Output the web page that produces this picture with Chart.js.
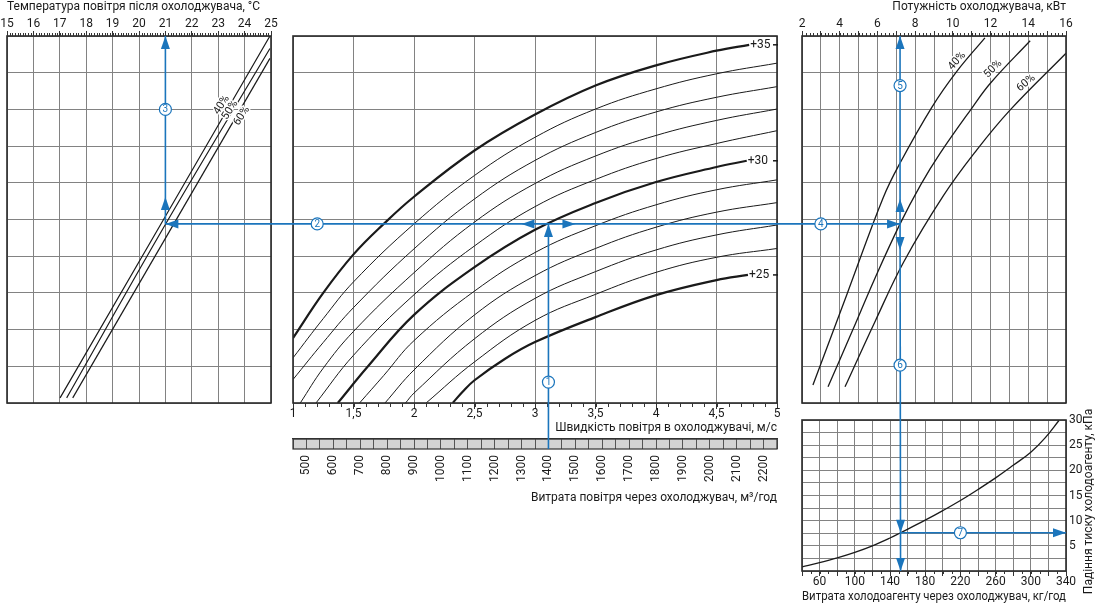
<!DOCTYPE html>
<html><head><meta charset="utf-8">
<script src="https://cdn.jsdelivr.net/npm/chart.js@4.4.1/dist/chart.umd.min.js"></script>
<style>
html,body{margin:0;padding:0;background:#fff;}
#wrap{position:relative;width:1098px;height:604px;overflow:hidden;background:#fff;}
#wrap canvas{position:absolute;left:0;top:0;}
</style></head><body>
<div id="wrap">
<canvas id="cL" width="1098" height="604"></canvas>
<canvas id="cC" width="1098" height="604"></canvas>
<canvas id="cR" width="1098" height="604"></canvas>
<canvas id="cB" width="1098" height="604"></canvas>
</div>
<script>
// ================= DATA =================
// Left panel: air temperature after the cooler, °C (tick labels) and RH lines
const outletTempTicks = [15, 16, 17, 18, 19, 20, 21, 22, 23, 24, 25];
const rhNames = ['40%', '50%', '60%'];
const outT40 = [17.01, 24.96];
const outS40 = [0.14, 10.0];
const outT50 = [17.26, 21.02, 24.96];
const outS50 = [0.14, 4.89, 9.66];
const outT60 = [17.49, 24.96];
const outS60 = [0.14, 9.39];

// Central panel: air velocity, m/s and air flow, m3/h
const velocityTicks = [1, 1.5, 2, 2.5, 3, 3.5, 4, 4.5, 5];
const velocityTickLabels = ['1', '1,5', '2', '2,5', '3', '3,5', '4', '4,5', '5'];
const airflowTicks = [500, 600, 700, 800, 900, 1000, 1100, 1200, 1300, 1400, 1500, 1600, 1700, 1800, 1900, 2000, 2100, 2200];
// inlet air temperature curves (+25 ... +35 °C)
const inletTemps = [35, 34, 33, 32, 31, 30, 29, 28, 27, 26, 25];
const vel35 = [1.0, 1.25, 1.5, 1.75, 2.0, 2.5, 3.0, 3.5, 4.0, 4.5, 4.77];
const st35  = [1.77, 3.0, 4.05, 4.88, 5.62, 6.88, 7.86, 8.65, 9.2, 9.6, 9.76];
const vel34 = [1.0, 1.25, 1.5, 2.0, 2.5, 3.0, 3.5, 4.0, 4.5, 5.0];
const st34  = [1.23, 2.3, 3.3, 4.88, 6.2, 7.24, 8.01, 8.56, 8.97, 9.26];
const vel33 = [1.0, 1.25, 1.5, 2.0, 2.5, 3.0, 3.5, 4.0, 4.5, 5.0];
const st33  = [0.64, 1.65, 2.6, 4.2, 5.56, 6.61, 7.37, 7.93, 8.33, 8.62];
const vel32 = [1.06, 1.25, 1.5, 2.0, 2.5, 3.0, 3.5, 4.0, 4.5, 5.0];
const st32  = [0.0, 0.95, 1.95, 3.55, 4.93, 5.98, 6.73, 7.29, 7.7, 8.01];
const vel31 = [1.19, 1.5, 2.0, 2.5, 3.0, 3.5, 4.0, 4.5, 5.0];
const st31  = [0.0, 1.3, 2.95, 4.28, 5.35, 6.09, 6.66, 7.07, 7.42];
const vel30 = [1.37, 1.62, 2.0, 2.5, 3.0, 3.5, 4.0, 4.5, 4.75];
const st30  = [0.0, 1.0, 2.4, 3.7, 4.72, 5.45, 6.02, 6.43, 6.6];
const vel29 = [1.55, 1.75, 2.0, 2.5, 3.0, 3.5, 4.0, 4.5, 5.0];
const st29  = [0.0, 0.75, 1.7, 3.05, 4.1, 4.83, 5.4, 5.81, 6.08];
const vel28 = [1.76, 2.0, 2.5, 3.0, 3.5, 4.0, 4.5, 5.0];
const st28  = [0.0, 0.9, 2.4, 3.47, 4.21, 4.79, 5.2, 5.46];
const vel27 = [1.93, 2.0, 2.5, 3.0, 3.5, 4.0, 4.5, 5.0];
const st27  = [0.0, 0.27, 1.75, 2.85, 3.58, 4.17, 4.58, 4.85];
const vel26 = [2.10, 2.5, 3.0, 3.5, 4.0, 4.5, 5.0];
const st26  = [0.0, 1.12, 2.25, 2.96, 3.56, 3.97, 4.21];
const vel25 = [2.32, 2.4, 2.5, 2.75, 3.0, 3.5, 4.0, 4.5, 4.76];
const st25  = [0.0, 0.3, 0.62, 1.2, 1.66, 2.34, 2.94, 3.35, 3.49];

// Right upper panel: cooler capacity, kW
const powerTicks = [2, 4, 6, 8, 10, 12, 14, 16];
const pow40 = [2.58, 4.41, 6.31, 7.2, 8.9, 10.2, 11.7];
const ps40  = [0.49, 3.0, 5.6, 6.54, 8.07, 9.03, 9.95];
const pow50 = [3.38, 4.7, 5.87, 7.2, 8.3, 9.32, 11.0, 12.0, 14.1];
const ps50  = [0.44, 2.0, 3.4, 4.88, 5.95, 6.8, 8.03, 8.72, 9.87];
const pow60 = [4.28, 5.9, 7.4, 9.5, 11.26, 13.03, 16.0];
const ps60  = [0.44, 2.25, 3.85, 5.65, 6.89, 7.98, 9.53];

// Right lower panel: refrigerant flow, kg/h  vs  pressure drop, kPa
const refFlowTicks = [60, 100, 140, 180, 220, 260, 300, 340];
const dropTicks = [5, 10, 15, 20, 25, 30];
const refFlow = [40, 60, 80, 100, 120, 140, 152, 180, 200, 220, 240, 260, 280, 300, 316, 332];
const refDrop = [0.8, 1.65, 2.6, 3.7, 5.0, 6.55, 7.6, 10.1, 12.0, 14.0, 16.2, 18.5, 21.0, 23.6, 26.4, 29.9];

// Worked example (blue path)
const exampleAirflow = 1400;      // m3/h
const exampleVelocityBadge = 1.2; // where badge 2 sits, m/s
const exampleState = 4.88;        // level where +30 curve meets the 1400 m3/h line
const exampleOutletTemp = 21;     // °C
const examplePower = 7.2;         // kW
const exampleRefFlow = 152;       // kg/h
const examplePressureDrop = 7.6;  // kPa

// ================= STYLE =================
const FONT = "Roboto, 'Liberation Sans', sans-serif";
const INK = '#1a1a1a';
const GRID = '#828282';
const BLUE = '#1b75bc';
Chart.defaults.font.family = FONT;
Chart.defaults.font.size = 12;
Chart.defaults.color = INK;

const pts = (xs, ys) => xs.map((x, i) => ({x: x, y: ys[i]}));
const near = (a, b) => Math.abs(a - b) < 1e-6;
const inList = (list, v) => list.some(t => near(t, v));

const baseOpts = () => ({
  responsive: false, animation: false, events: [], devicePixelRatio: 1,
  plugins: {legend: {display: false}, tooltip: {enabled: false}}
});
const stateAxis = () => ({
  type: 'linear', min: 0, max: 10,
  ticks: {display: false, stepSize: 1},
  grid: {color: GRID, drawTicks: false, tickLength: 0},
  border: {display: false},
  afterFit: s => { s.width = 0; }
});
const curve = (data, w) => ({data: data, borderColor: INK, borderWidth: w, pointRadius: 0,
  tension: 0.4, fill: false});

const framePlugin = {
  id: 'frame',
  afterDatasetsDraw(chart) {
    const {ctx, chartArea: a} = chart;
    ctx.save(); ctx.strokeStyle = '#2a2a2a'; ctx.lineWidth = 1.6;
    ctx.strokeRect(a.left, a.top, a.right - a.left, a.bottom - a.top);
    ctx.restore();
  }
};
const minorTicks = (list) => ({
  id: 'minorTicks',
  afterDraw(chart) {
    const ctx = chart.ctx;
    list.forEach(m => {
      const s = chart.scales[m.axis];
      const n = Math.round((s.max - s.min) / m.step);
      ctx.save(); ctx.strokeStyle = '#333'; ctx.lineWidth = 1; ctx.beginPath();
      for (let i = 0; i <= n; i++) {
        const x = Math.round(s.getPixelForValue(s.min + i * m.step)) + 0.5;
        if (m.side === 'top') { ctx.moveTo(x, s.bottom); ctx.lineTo(x, s.bottom - m.len); }
        else { ctx.moveTo(x, s.top); ctx.lineTo(x, s.top + m.len); }
      }
      ctx.stroke(); ctx.restore();
    });
  }
});
const curveLabels = (items, size) => ({
  id: 'curveLabels',
  afterDatasetsDraw(chart) {
    const ctx = chart.ctx, sx = chart.scales.x, sy = chart.scales.y;
    items.forEach(it => {
      ctx.save();
      ctx.translate(sx.getPixelForValue(it.x), sy.getPixelForValue(it.y));
      ctx.rotate(it.angle * Math.PI / 180);
      ctx.font = size + 'px ' + FONT; ctx.textAlign = 'center'; ctx.textBaseline = 'middle';
      ctx.strokeStyle = '#fff'; ctx.lineWidth = 3; ctx.strokeText(it.text, 0, 0);
      ctx.fillStyle = INK; ctx.fillText(it.text, 0, 0);
      ctx.restore();
    });
  }
});

// ================= LEFT PANEL =================
const L = new Chart(document.getElementById('cL'), {
  type: 'line',
  data: {datasets: [
    curve(pts(outT40, outS40), 1.2),
    curve(pts(outT50, outS50), 1.2),
    curve(pts(outT60, outS60), 1.2)
  ]},
  options: Object.assign(baseOpts(), {
    layout: {padding: {left: 7, right: 827, top: 0, bottom: 201}},
    scales: {
      x: {type: 'linear', position: 'top', min: 15, max: 25,
        ticks: {stepSize: 1, autoSkip: false, maxRotation: 0, padding: 0,
          callback: v => inList(outletTempTicks, v) ? String(v) : ''},
        grid: {color: GRID, tickColor: '#333', tickLength: 5},
        border: {display: false},
        title: {display: true, text: 'Температура повітря після охолоджувача, °C', align: 'start',
          padding: {top: 0, bottom: 0}, color: INK},
        afterFit: s => { s.height = 36; }},
      y: stateAxis()
    }
  }),
  plugins: [framePlugin, minorTicks([{axis: 'x', step: 0.1, len: 3, side: 'top'}]),
    curveLabels([
      {text: rhNames[0], x: 23.13, y: 8.12, angle: -57},
      {text: rhNames[1], x: 23.45, y: 7.98, angle: -57},
      {text: rhNames[2], x: 23.89, y: 7.82, angle: -57}
    ], 11)]
});

// ================= CENTRAL PANEL =================
const inletVel = [vel35, vel34, vel33, vel32, vel31, vel30, vel29, vel28, vel27, vel26, vel25];
const inletSt  = [st35, st34, st33, st32, st31, st30, st29, st28, st27, st26, st25];

const grayBarPlugin = {
  id: 'grayBar',
  beforeDraw(chart) {
    const s = chart.scales.x2, ctx = chart.ctx;
    ctx.save(); ctx.fillStyle = '#d4d4d4';
    ctx.fillRect(s.left, s.top, s.right - s.left, 10);
    ctx.restore();
  },
  afterDraw(chart) {
    const s = chart.scales.x2, ctx = chart.ctx;
    ctx.save(); ctx.strokeStyle = '#333'; ctx.lineWidth = 1.2;
    ctx.strokeRect(s.left, s.top, s.right - s.left, 10);
    ctx.restore();
  }
};
const tagPlugin = {
  id: 'tags',
  afterDatasetsDraw(chart) {
    const ctx = chart.ctx, a = chart.chartArea;
    chart.data.datasets.forEach((ds, i) => {
      if (!ds.tag) return;
      const meta = chart.getDatasetMeta(i);
      const p = meta.data[meta.data.length - 1];
      ctx.save();
      ctx.font = '12px ' + FONT; ctx.fillStyle = INK; ctx.textAlign = 'left'; ctx.textBaseline = 'middle';
      ctx.fillText(ds.tag, p.x + 1, p.y);
      ctx.strokeStyle = INK; ctx.lineWidth = 1.5;
      ctx.beginPath(); ctx.moveTo(a.right - 4, p.y); ctx.lineTo(a.right + 1, p.y); ctx.stroke();
      ctx.restore();
    });
  }
};

const C = new Chart(document.getElementById('cC'), {
  type: 'line',
  data: {datasets: inletTemps.map((t, i) => Object.assign(
    curve(pts(inletVel[i], inletSt[i]), t % 5 === 0 ? 2.2 : 1),
    {xAxisID: 'x', yAxisID: 'y', tag: t % 5 === 0 ? '+' + t : ''}))},
  options: Object.assign(baseOpts(), {
    layout: {padding: {left: 293, right: 321, top: 36, bottom: 99}},
    scales: {
      x: {type: 'linear', position: 'bottom', min: 1, max: 5, weight: 0,
        ticks: {stepSize: 0.5, autoSkip: false, maxRotation: 0, padding: -2,
          callback: v => { const k = velocityTicks.findIndex(t => near(t, v)); return k >= 0 ? velocityTickLabels[k] : ''; }},
        grid: {color: GRID, tickColor: '#333', tickLength: 6},
        border: {display: false},
        title: {display: true, text: 'Швидкість повітря в охолоджувачі, м/с', align: 'end',
          padding: {top: 0, bottom: 4}, color: INK},
        afterFit: s => { s.height = 36; }},
      x2: {type: 'linear', axis: 'x', position: 'bottom', min: 450, max: 2250, weight: 1,
        ticks: {stepSize: 50, autoSkip: false, minRotation: 90, maxRotation: 90, padding: 6,
          callback: v => inList(airflowTicks, v) ? String(v) : ''},
        grid: {drawOnChartArea: false, color: '#555', tickColor: '#555', tickLength: 10},
        border: {display: true, color: '#333', width: 1.2},
        title: {display: true, text: 'Витрата повітря через охолоджувач, м³/год', align: 'end',
          padding: {top: 0, bottom: 0}, color: INK},
        afterFit: s => { s.height = 66; }},
      y: stateAxis()
    }
  }),
  plugins: [grayBarPlugin, framePlugin, tagPlugin, minorTicks([{axis: 'x', step: 0.1, len: 4, side: 'bottom'}])]
});

// ================= RIGHT UPPER PANEL =================
const R = new Chart(document.getElementById('cR'), {
  type: 'line',
  data: {datasets: [
    curve(pts(pow40, ps40), 1.3),
    curve(pts(pow50, ps50), 1.3),
    curve(pts(pow60, ps60), 1.3)
  ]},
  options: Object.assign(baseOpts(), {
    layout: {padding: {left: 802, right: 32, top: 0, bottom: 201}},
    scales: {
      x: {type: 'linear', position: 'top', min: 2, max: 16,
        ticks: {stepSize: 1, autoSkip: false, maxRotation: 0, padding: 0,
          callback: v => inList(powerTicks, v) ? String(v) : ''},
        grid: {color: GRID, tickColor: '#333', tickLength: 5},
        border: {display: false},
        title: {display: true, text: 'Потужність охолоджувача, кВт', align: 'end',
          padding: {top: 0, bottom: 0}, color: INK},
        afterFit: s => { s.height = 36; }},
      y: stateAxis()
    }
  }),
  plugins: [framePlugin, minorTicks([{axis: 'x', step: 0.2, len: 3, side: 'top'}]),
    curveLabels([
      {text: rhNames[0], x: 10.22, y: 9.32, angle: -48},
      {text: rhNames[1], x: 12.13, y: 9.10, angle: -45},
      {text: rhNames[2], x: 13.88, y: 8.72, angle: -40}
    ], 11)]
});

// ================= RIGHT LOWER PANEL + BLUE EXAMPLE PATH =================
function arrow(ctx, x, y, dir) {
  const len = 13, w = 4.5;
  ctx.beginPath(); ctx.moveTo(x, y);
  if (dir === 'up') { ctx.lineTo(x - w, y + len); ctx.lineTo(x + w, y + len); }
  if (dir === 'down') { ctx.lineTo(x - w, y - len); ctx.lineTo(x + w, y - len); }
  if (dir === 'left') { ctx.lineTo(x + len, y - w); ctx.lineTo(x + len, y + w); }
  if (dir === 'right') { ctx.lineTo(x - len, y - w); ctx.lineTo(x - len, y + w); }
  ctx.closePath(); ctx.fill();
}
function badge(ctx, x, y, n) {
  ctx.beginPath(); ctx.arc(x, y, 6, 0, Math.PI * 2);
  ctx.fillStyle = '#fff'; ctx.fill();
  ctx.lineWidth = 1.2; ctx.strokeStyle = BLUE; ctx.stroke();
  ctx.fillStyle = BLUE; ctx.font = '10px ' + FONT; ctx.textAlign = 'center'; ctx.textBaseline = 'middle';
  ctx.fillText(String(n), x, y + 0.5);
}
const yTitlePlugin = {
  id: 'yTitle',
  afterDraw(chart) {
    const a = chart.chartArea, ctx = chart.ctx;
    ctx.save();
    ctx.translate(a.right + 23, (a.top + a.bottom) / 2 + 6);
    ctx.rotate(-Math.PI / 2);
    ctx.font = '12px ' + FONT; ctx.fillStyle = INK; ctx.textAlign = 'center'; ctx.textBaseline = 'middle';
    ctx.fillText('Падіння тиску холодоагенту, кПа', 0, 0);
    ctx.restore();
  }
};
const guidePlugin = {
  id: 'guide',
  afterDraw(B) {
    const ctx = B.ctx;
    const yH = C.scales.y.getPixelForValue(exampleState);
    const xL = L.scales.x.getPixelForValue(exampleOutletTemp);
    const xC = C.scales.x2.getPixelForValue(exampleAirflow);
    const xR = R.scales.x.getPixelForValue(examplePower);
    const xRB = B.scales.x.getPixelForValue(exampleRefFlow);
    const yDp = B.scales.y.getPixelForValue(examplePressureDrop);
    const barBottom = C.scales.x2.top + 10;
    ctx.save();
    ctx.strokeStyle = BLUE; ctx.fillStyle = BLUE; ctx.lineWidth = 1.6;
    const seg = (x1, y1, x2, y2) => { ctx.beginPath(); ctx.moveTo(x1, y1); ctx.lineTo(x2, y2); ctx.stroke(); };
    seg(xC, barBottom, xC, yH);                 // 1
    seg(xL, yH, xR, yH);                        // 2 + 4
    seg(xL, yH, xL, L.chartArea.top);           // 3
    seg(xR, yH, xR, R.chartArea.top);           // 5
    seg(xR, yH, xRB, B.chartArea.bottom);       // 6
    seg(xRB, yDp, B.chartArea.right, yDp);      // 7
    arrow(ctx, xC, yH, 'up');
    arrow(ctx, xL, yH, 'left');
    arrow(ctx, xC - 27, yH, 'left');
    arrow(ctx, xC + 27, yH, 'right');
    arrow(ctx, xL, L.chartArea.top, 'up');
    arrow(ctx, xL, yH - 27, 'up');
    arrow(ctx, xR, yH, 'right');
    arrow(ctx, xR, R.chartArea.top, 'up');
    arrow(ctx, xR, yH - 25, 'up');
    arrow(ctx, xR, yH + 26, 'down');
    arrow(ctx, xRB, yDp, 'down');
    arrow(ctx, xRB, B.chartArea.bottom, 'down');
    arrow(ctx, B.chartArea.right, yDp, 'right');
    badge(ctx, xC, C.scales.y.getPixelForValue(0.57), 1);
    badge(ctx, C.scales.x.getPixelForValue(exampleVelocityBadge), yH, 2);
    badge(ctx, xL, L.scales.y.getPixelForValue(8.0), 3);
    badge(ctx, R.scales.x.getPixelForValue(3.0), yH, 4);
    badge(ctx, xR, R.scales.y.getPixelForValue(8.65), 5);
    badge(ctx, xR, R.scales.y.getPixelForValue(1.03), 6);
    badge(ctx, B.scales.x.getPixelForValue(220), yDp, 7);
    ctx.restore();
  }
};

const B = new Chart(document.getElementById('cB'), {
  type: 'line',
  data: {datasets: [curve(pts(refFlow, refDrop), 1.3)]},
  options: Object.assign(baseOpts(), {
    layout: {padding: {left: 802, right: 12, top: 420, bottom: 0}},
    scales: {
      x: {type: 'linear', position: 'bottom', min: 40, max: 340,
        ticks: {stepSize: 20, autoSkip: false, maxRotation: 0, padding: -1,
          callback: v => inList(refFlowTicks, v) ? String(v) : ''},
        grid: {color: GRID, tickColor: '#333', tickLength: 5},
        border: {display: false},
        title: {display: true, text: 'Витрата холодоагенту через охолоджувач, кг/год', align: 'center',
          padding: {top: 0, bottom: 0}, color: INK},
        afterFit: s => { s.height = 33; }},
      y: {type: 'linear', position: 'right', min: 0, max: 30,
        ticks: {stepSize: 2.5, autoSkip: false, padding: 3,
          callback: v => inList(dropTicks, v) ? String(v) : ''},
        grid: {color: GRID, drawTicks: false, tickLength: 0},
        border: {display: false},
        afterFit: s => { s.width = 20; }}
    }
  }),
  plugins: [framePlugin, minorTicks([{axis: 'x', step: 10, len: 3, side: 'bottom'}]), yTitlePlugin, guidePlugin]
});
</script></body></html>
